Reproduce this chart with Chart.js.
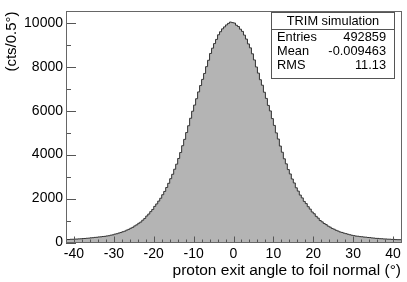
<!DOCTYPE html>
<html>
<head>
<meta charset="utf-8">
<script src="https://cdn.jsdelivr.net/npm/chart.js@4.4.0/dist/chart.umd.min.js"></script>
<style>
  html, body { margin: 0; padding: 0; background: #fff; }
  #wrap { width: 407px; height: 282px; }
</style>
</head>
<body>
<div id="wrap"><canvas id="hist"></canvas></div>
<script>
// histogram: 0.5 deg bins from -42 to 42
var binWidth = 0.5;
var xMin = -42;
var xMax = 42;

// counts, left half (-42..0) then right half (0..42)
var countsLeft = [
  127, 135, 136, 146, 147, 155, 156, 165, 168, 178,
  183, 193, 198, 212, 218, 232, 238, 253, 258, 272,
  280, 298, 308, 333, 348, 380, 398, 430, 452, 488,
  515, 563, 598, 648, 690, 755, 805, 875, 930, 1015,
  1095, 1205, 1295, 1405, 1505, 1645, 1755, 1885, 2015, 2175,
  2325, 2505, 2695, 2905, 3105, 3335, 3565, 3825, 4095, 4405,
  4695, 5005, 5315, 5655, 5975, 6255, 6545, 6855, 7145, 7425,
  7695, 8005, 8295, 8605, 8845, 9055, 9245, 9455, 9595, 9725,
  9815, 9905, 9975, 10035
];
var countsRight = [
  10010, 9990, 9890, 9830, 9710, 9610, 9440, 9260, 9040, 8860,
  8590, 8310, 7990, 7710, 7410, 7160, 6840, 6560, 6240, 5990,
  5640, 5330, 4990, 4710, 4390, 4110, 3810, 3580, 3320, 3120,
  2890, 2710, 2490, 2340, 2160, 2030, 1870, 1770, 1630, 1520,
  1390, 1310, 1190, 1110, 1000, 940, 865, 815, 745, 700,
  640, 605, 555, 522, 480, 458, 425, 403, 375, 352,
  328, 312, 292, 285, 268, 262, 248, 242, 228, 222,
  208, 202, 188, 186, 174, 171, 161, 160, 151, 150,
  141, 140, 131, 128
];

var yTicks = [0, 2000, 4000, 6000, 8000, 10000];
var xTicks = [-40, -30, -20, -10, 0, 10, 20, 30, 40];

var statsTitle = "TRIM simulation";
var statsNames = ["Entries", "Mean", "RMS"];
var statsValues = ["492859", "-0.009463", "11.13"];

var counts = countsLeft.concat(countsRight);

// step points at low bin edges, plus closing point at the upper edge
var points = counts.map(function (c, i) {
  return { x: xMin + i * binWidth, y: c };
});
points.push({ x: xMax, y: counts[counts.length - 1] });

var font = "Liberation Sans, Arial, Helvetica, sans-serif";

var rootFrame = {
  id: "rootFrame",
  afterDatasetsDraw: function (chart) {
    var ctx = chart.ctx;
    var a = chart.chartArea;
    var xs = chart.scales.x;
    var ys = chart.scales.y;
    ctx.save();
    ctx.strokeStyle = "#555";
    ctx.lineWidth = 1;
    ctx.beginPath();
    // y ticks: major every 2000, minor every 1000
    for (var v = 0; v <= 10000; v += 1000) {
      var py = Math.round(ys.getPixelForValue(v)) + 0.5;
      var len = (v % 2000 === 0) ? 10 : 5;
      ctx.moveTo(a.left, py);
      ctx.lineTo(a.left + len, py);
    }
    // x ticks: major every 10, minor every 2
    for (var t = -40; t <= 40; t += 2) {
      var px = Math.round(xs.getPixelForValue(t)) + 0.5;
      var l = (t % 10 === 0) ? 6 : 3;
      ctx.moveTo(px, a.bottom);
      ctx.lineTo(px, a.bottom - l);
    }
    ctx.stroke();
    ctx.strokeStyle = "#666";
    ctx.strokeRect(Math.round(a.left) + 0.5, Math.round(a.top) + 0.5,
      Math.round(a.right - a.left), Math.round(a.bottom - a.top));
    ctx.restore();
  },
  afterDraw: function (chart) {
    var ctx = chart.ctx;
    var bx = 271.5, by = 12.5, bw = 123, bh = 66;
    ctx.save();
    ctx.fillStyle = "#fff";
    ctx.fillRect(bx, by, bw, bh);
    ctx.strokeStyle = "#555";
    ctx.lineWidth = 1;
    ctx.strokeRect(bx, by, bw, bh);
    ctx.beginPath();
    ctx.moveTo(bx, 29.5);
    ctx.lineTo(bx + bw, 29.5);
    ctx.stroke();
    ctx.fillStyle = "#000";
    ctx.font = "12.8px " + font;
    ctx.textBaseline = "middle";
    ctx.textAlign = "center";
    ctx.fillText(statsTitle, bx + bw / 2, 21);
    var rows = [37.5, 51.5, 65.5];
    for (var i = 0; i < statsNames.length; i++) {
      ctx.textAlign = "left";
      ctx.fillText(statsNames[i], 277, rows[i]);
      ctx.textAlign = "right";
      ctx.fillText(statsValues[i], 386, rows[i]);
    }
    ctx.restore();
  }
};

new Chart("hist", {
  type: "line",
  data: {
    datasets: [
      {
        data: points,
        stepped: "after",
        fill: "origin",
        backgroundColor: "#b4b4b4",
        borderColor: "#333",
        borderWidth: 1,
        pointRadius: 0,
        tension: 0
      }
    ]
  },
  options: {
    responsive: true,
    maintainAspectRatio: false,
    animation: false,
    devicePixelRatio: 1,
    layout: { padding: { top: 3.5, right: 6, left: 0, bottom: 0 } },
    plugins: {
      legend: { display: false },
      tooltip: { enabled: false }
    },
    scales: {
      x: {
        type: "linear",
        min: xMin,
        max: xMax,
        grid: { display: false, drawTicks: false },
        border: { display: false },
        afterBuildTicks: function (s) {
          s.ticks = xTicks.map(function (v) { return { value: v }; });
        },
        afterFit: function (s) { s.height = 39.5; },
        ticks: {
          padding: 3,
          maxRotation: 0,
          autoSkip: false,
          color: "#000",
          font: { family: font, size: 14 }
        },
        title: {
          display: true,
          align: "end",
          text: "proton exit angle to foil normal (\u00b0)",
          color: "#000",
          font: { family: font, size: 15.5 },
          padding: { top: 0, bottom: 2 }
        }
      },
      y: {
        min: 0,
        max: 10520,
        grid: { display: false, drawTicks: false },
        border: { display: false },
        afterBuildTicks: function (s) {
          s.ticks = yTicks.map(function (v) { return { value: v }; });
        },
        afterFit: function (s) { s.width = 66; },
        ticks: {
          padding: 3,
          color: "#000",
          font: { family: font, size: 14 },
          callback: function (v) { return String(v); }
        },
        title: {
          display: true,
          align: "end",
          text: "(cts/0.5\u00b0)",
          color: "#000",
          font: { family: font, size: 15 },
          padding: { top: 3, bottom: 0 }
        }
      }
    }
  },
  plugins: [rootFrame]
});
</script>
</body>
</html>
